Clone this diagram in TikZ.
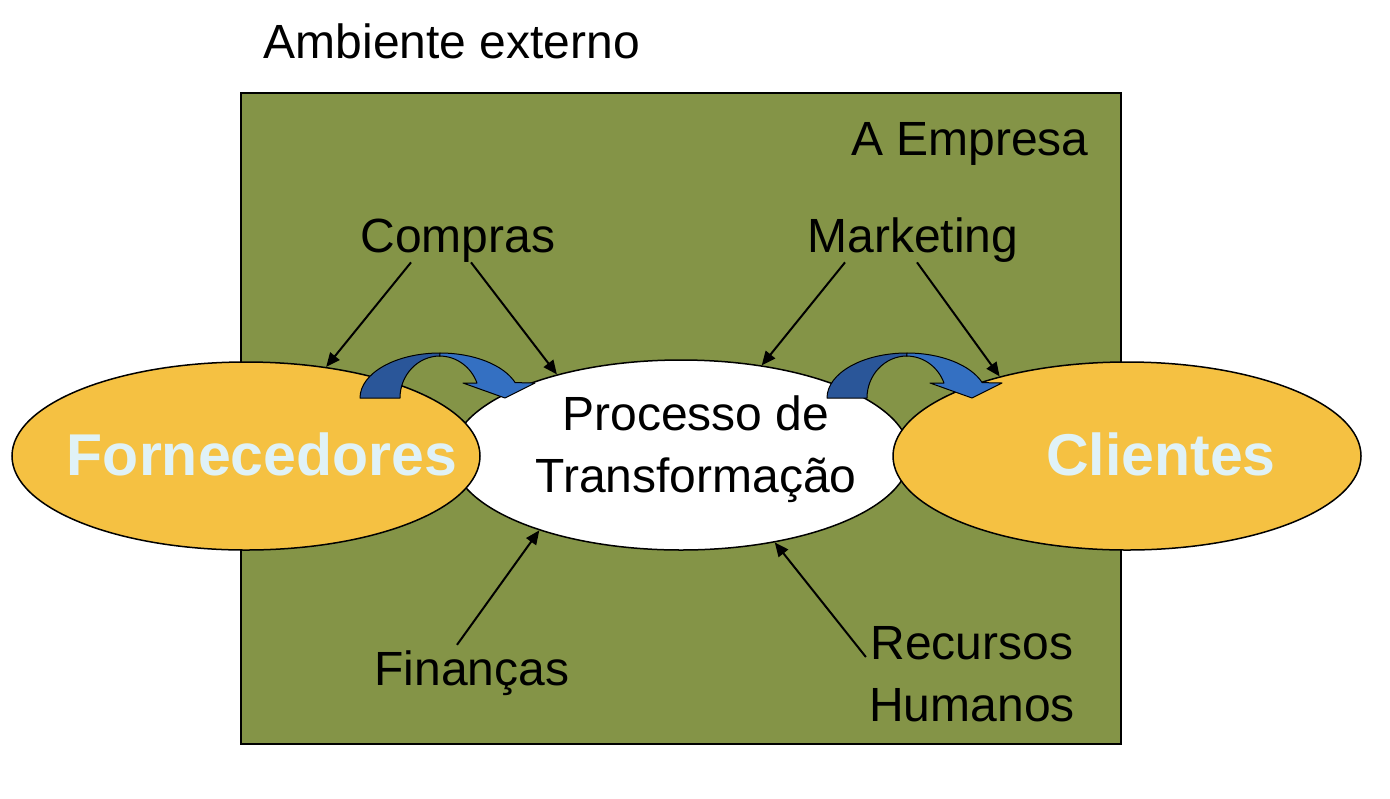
\documentclass[tikz,border=0pt]{standalone}
\usepackage{fontspec}
\setmainfont{Liberation Sans}
\usetikzlibrary{shapes.geometric,arrows.meta}

\definecolor{empresagreen}{HTML}{849447}
\definecolor{partyellow}{HTML}{F5C142}
\definecolor{partlabel}{HTML}{E0F2F7}
\definecolor{arrowdark}{HTML}{2A5699}
\definecolor{arrowlight}{HTML}{3470C2}

\begin{document}
\begin{tikzpicture}[x=0.5pt,y=0.5pt,
    lbl/.style={inner sep=0pt,font=\fontsize{24}{31}\selectfont},
    party/.style={ellipse,draw,line width=0.75pt,fill=partyellow,minimum width=234pt,minimum height=94pt,inner sep=0pt},
    partylbl/.style={inner sep=0pt,text=partlabel,font=\fontsize{29.5}{35}\selectfont\bfseries},
    conn/.style={line width=1pt,-{Triangle[length=7pt,width=6pt]}},
    bendarrow/.style={draw,line width=0.5pt,line join=round}]
    \useasboundingbox (0,0) rectangle (1390,-798);

    % Ambiente e empresa
    \node[lbl,anchor=base] (ambiente) at (452,-58) {Ambiente externo};
    \draw[fill=empresagreen,line width=1.25pt] (241,-93) rectangle (1121,-744);
    \node[lbl,anchor=base] (empresa) at (970,-155) {A Empresa};

    % Processo de transformacao
    \node[ellipse,draw,line width=0.75pt,fill=white,minimum width=229pt,minimum height=95pt,inner sep=0pt] (processo) at (681,-455) {};
    \node[lbl,align=center,anchor=north] (processolbl) at (696,-395) {Processo de\\Transformação};

    % Fornecedores e clientes
    \node[party] (forn) at (246,-456) {};
    \node[party] (clientes) at (1127,-456) {};
    \node[partylbl,anchor=base] (fornlbl) at (262,-475) {Fornecedores};
    \node[partylbl,anchor=base] (clienteslbl) at (1161,-475) {Clientes};

    % Setas curvas
    \foreach \cx in {440,907} {
        \draw[bendarrow,fill=arrowdark] (\cx-80,-398) arc[start angle=180,end angle=90,x radius=80,y radius=45]
            -- ++(0,-3) arc[start angle=90,end angle=180,x radius=40,y radius=42] -- cycle;
        \draw[bendarrow,fill=arrowlight] (\cx,-353) arc[start angle=90,end angle=20,x radius=80,y radius=45]
            -- (\cx+95,-383) -- (\cx+65,-398) -- (\cx+23,-383) -- (\cx+37,-383)
            arc[start angle=21,end angle=90,x radius=40,y radius=42] -- cycle;
    }

    % Areas
    \node[lbl,anchor=base] (compras) at (458,-252) {Compras};
    \node[lbl,anchor=base] (marketing) at (913,-252) {Marketing};
    \node[lbl,anchor=base] (financas) at (472,-685) {Finanças};
    \node[lbl,align=center] (rh) at (972,-674) {Recursos\\Humanos};

    % Setas das areas
    \draw[conn] ([xshift=-23.5pt]compras.south) -- (forn.48);
    \draw[conn] ([xshift=6.5pt]compras.south) -- (processo.147);
    \draw[conn] ([xshift=-34pt]marketing.south) -- (processo.48);
    \draw[conn] ([xshift=2pt]marketing.south) -- (clientes.148);
    \draw[conn] ([xshift=-7.5pt,yshift=2.5pt]financas.north) -- (processo.208);
    \draw[conn] ([shift={(-1.5pt,8.5pt)}]rh.west) -- (processo.317);
\end{tikzpicture}
\end{document}
